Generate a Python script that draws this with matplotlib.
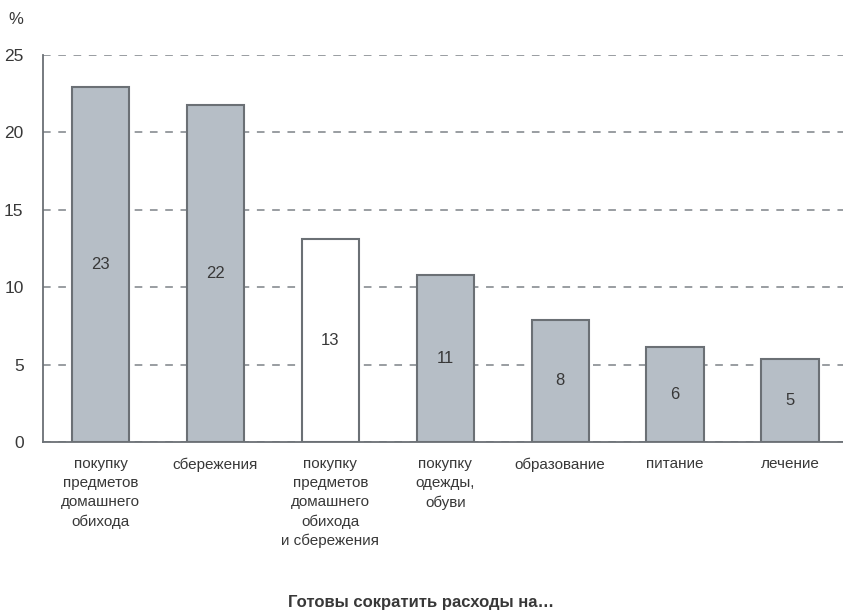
import matplotlib
matplotlib.use("Agg")
import matplotlib.pyplot as plt
from matplotlib import font_manager

names = set(f.name for f in font_manager.fontManager.ttflist)
fam = ["Liberation Sans Narrow", "Liberation Sans", "DejaVu Sans"]
fam = [f for f in fam if f in names] or ["DejaVu Sans"]
plt.rcParams["font.family"] = fam

# data
categories = [
    "покупку\nпредметов\nдомашнего\nобихода",
    "сбережения",
    "покупку\nпредметов\nдомашнего\nобихода\nи сбережения",
    "покупку\nодежды,\nобуви",
    "образование",
    "питание",
    "лечение",
]
heights = [22.9, 21.8, 13.1, 10.8, 7.9, 6.15, 5.35]
labels = ["23", "22", "13", "11", "8", "6", "5"]
yticks = [0, 5, 10, 15, 20, 25]

text_col = "#383838"
fill = "#b6bec6"
edge = "#6b7075"
fills = [fill, fill, "white", fill, fill, fill, fill]

fig = plt.figure(figsize=(8.43, 6.11), dpi=100)
ax = fig.add_axes([0.051, 0.2766, 0.949, 0.6334])

x = list(range(len(categories)))
ax.bar(x, heights, width=0.5, color=fills, edgecolor=edge, linewidth=1.5, zorder=3)
for xi, h, lab in zip(x, heights, labels):
    ax.text(xi, h / 2, lab, ha="center", va="center", fontsize=12, color=text_col, zorder=4)

ax.set_xlim(-0.5, 6.46)
ax.set_ylim(0, 25)
ax.set_yticks(yticks)
ax.set_yticklabels([str(t) for t in yticks], fontsize=12.5, color=text_col)
ax.set_xticks(x)
ax.set_xticklabels(categories, fontsize=11, color=text_col, linespacing=1.45, va="top")
ax.tick_params(axis="both", length=0)
ax.tick_params(axis="x", pad=11)
ax.tick_params(axis="y", pad=14)
ax.yaxis.grid(True, linestyle=(0, (5, 5)), color="#7d8288", linewidth=1.1, zorder=0)

for s in ["top", "right"]:
    ax.spines[s].set_visible(False)
ax.spines["left"].set_color("#6b7075")
ax.spines["bottom"].set_color("#6b7075")
ax.spines["left"].set_linewidth(1.3)
ax.spines["bottom"].set_linewidth(1.3)

fig.text(0.01, 0.968, "%", fontsize=12, color=text_col, ha="left", va="center")
fig.text(0.5, 0.014, "Готовы сократить расходы на…", fontsize=12, fontweight="bold",
         color=text_col, ha="center", va="center")

fig.savefig("out.png", dpi=100, facecolor="white")
